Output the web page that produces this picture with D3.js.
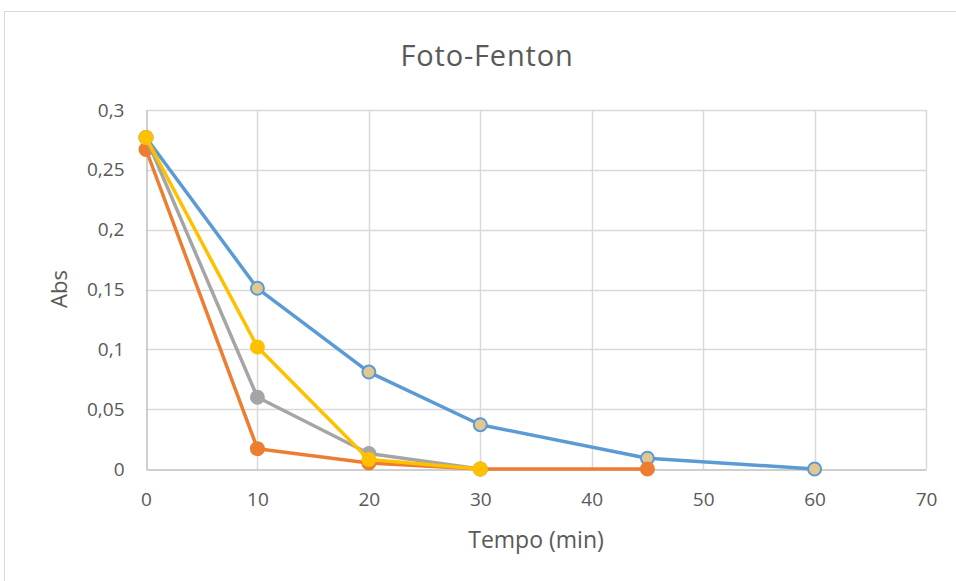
<!DOCTYPE html>
<html>
<head>
<meta charset="utf-8">
<script src="https://cdn.jsdelivr.net/npm/d3@7"></script>
<style>
  html, body { margin: 0; padding: 0; background: #fff; }
  svg { display: block; font-family: "Open Sans", sans-serif; }
</style>
</head>
<body>
<svg id="chart" width="956" height="581"></svg>
<script>
// Absorbance over time, Foto-Fenton runs
const xTicks = [0, 10, 20, 30, 40, 50, 60, 70];
const yTicks = [0, 0.05, 0.1, 0.15, 0.2, 0.25, 0.3];

const blueTimes = [0, 10, 20, 30, 45, 60];
const blueAbs = [0.277, 0.151, 0.081, 0.037, 0.009, 0];

const orangeTimes = [0, 10, 20, 30, 45];
const orangeAbs = [0.267, 0.017, 0.005, 0, 0];

const grayTimes = [0, 10, 20, 30];
const grayAbs = [0.277, 0.060, 0.013, 0];

const yellowTimes = [0, 10, 20, 30];
const yellowAbs = [0.277, 0.102, 0.008, 0];

const series = [
  { times: blueTimes, values: blueAbs, line: "#5B9BD5", fill: "#E2C792", stroke: "#5B9BD5" },
  { times: orangeTimes, values: orangeAbs, line: "#ED7D31", fill: "#ED7D31", stroke: "#ED7D31" },
  { times: grayTimes, values: grayAbs, line: "#A5A5A5", fill: "#A5A5A5", stroke: "#A5A5A5" },
  { times: yellowTimes, values: yellowAbs, line: "#FFC000", fill: "#FFC000", stroke: "#FFC000" }
];

const svg = d3.select("#chart");
const plotLeft = 146, plotRight = 926, plotTop = 110, plotBottom = 469;
const textColor = "#595959";

const x = d3.scaleLinear().domain([0, 70]).range([plotLeft, plotRight]);
const y = d3.scaleLinear().domain([0, 0.3]).range([plotBottom, plotTop]);

// chart frame
svg.append("rect")
  .attr("x", 4.5).attr("y", 11.5)
  .attr("width", 1000).attr("height", 1000)
  .attr("fill", "none").attr("stroke", "#d9d9d9").attr("stroke-width", 1);

// gridlines
svg.append("g")
  .selectAll("line")
  .data(yTicks.filter(d => d > 0))
  .join("line")
  .attr("x1", plotLeft).attr("x2", plotRight)
  .attr("y1", d => Math.round(y(d)) + 0.5).attr("y2", d => Math.round(y(d)) + 0.5)
  .attr("stroke", "#d9d9d9").attr("stroke-width", 1.5);

svg.append("g")
  .selectAll("line")
  .data(xTicks.filter(d => d > 0))
  .join("line")
  .attr("x1", d => Math.round(x(d)) + 0.5).attr("x2", d => Math.round(x(d)) + 0.5)
  .attr("y1", plotTop).attr("y2", plotBottom)
  .attr("stroke", "#d9d9d9").attr("stroke-width", 1.5);

// axes
const xAxis = d3.axisBottom(x).tickValues(xTicks).tickSize(0).tickPadding(23)
  .tickFormat(d3.format("d"));
const gx = svg.append("g").attr("transform", `translate(0,${Math.round(plotBottom) + 0.5})`).call(xAxis);
gx.select(".domain").attr("stroke", "#bfbfbf").attr("stroke-width", 1.5);
gx.selectAll("text").attr("fill", textColor).style("font-size", "19px")
  .style("font-family", "'Open Sans', sans-serif");

const fmtY = d => d === 0 ? "0" : String(+d.toFixed(2)).replace(".", ",");
const yAxis = d3.axisLeft(y).tickValues(yTicks).tickSize(0).tickPadding(22).tickFormat(fmtY);
const gy = svg.append("g").attr("transform", `translate(${plotLeft + 0.5},0)`).call(yAxis);
gy.select(".domain").attr("stroke", "#bfbfbf").attr("stroke-width", 1.5);
gy.selectAll("text").attr("fill", textColor).style("font-size", "19px")
  .style("font-family", "'Open Sans', sans-serif");

// series lines and markers
const line = d3.line().x(d => x(d[0])).y(d => y(d[1]));
series.forEach(s => {
  const pts = s.times.map((t, i) => [t, s.values[i]]);
  svg.append("path").datum(pts)
    .attr("d", line)
    .attr("fill", "none")
    .attr("stroke", s.line)
    .attr("stroke-width", 3.5)
    .attr("stroke-linejoin", "round");
  svg.append("g").selectAll("circle")
    .data(pts)
    .join("circle")
    .attr("cx", d => x(d[0])).attr("cy", d => y(d[1]))
    .attr("r", 6.5)
    .attr("fill", s.fill)
    .attr("stroke", s.stroke)
    .attr("stroke-width", 2);
});

// title and axis titles
svg.append("text")
  .attr("x", 487).attr("y", 66)
  .attr("text-anchor", "middle")
  .attr("fill", textColor)
  .style("font-size", "29px")
  .style("letter-spacing", "0.8px")
  .text("Foto-Fenton");

svg.append("text")
  .attr("x", 536).attr("y", 548)
  .attr("text-anchor", "middle")
  .attr("fill", textColor)
  .style("font-size", "23px")
  .text("Tempo (min)");

svg.append("text")
  .attr("transform", "translate(67,289) rotate(-90)")
  .attr("text-anchor", "middle")
  .attr("fill", textColor)
  .style("font-size", "22px")
  .text("Abs");
</script>
</body>
</html>
